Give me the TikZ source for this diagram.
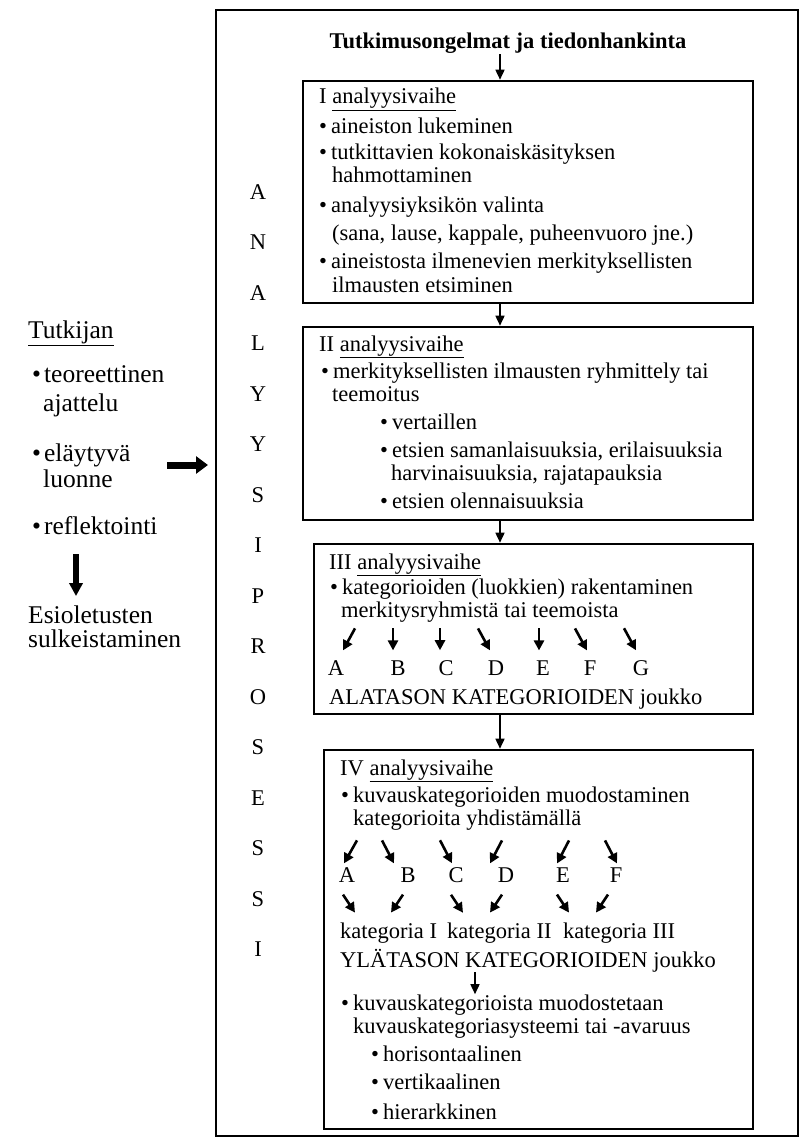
\documentclass[tikz,border=0pt]{standalone}
\usepackage{fontspec}
\setmainfont{Liberation Serif}
\usetikzlibrary{arrows.meta,calc}

\tikzset{
  txt/.style={anchor=base west,inner sep=0pt,font=\fontsize{22.5}{21.5}\selectfont},
  vtxt/.style={anchor=base west,inner sep=0pt,font=\fontsize{25.5}{27}\selectfont},
  kirjain/.style={inner sep=0pt,font=\fontsize{22.5}{21.5}\selectfont},
  vaihe/.style={draw,line width=2.6pt,inner sep=0pt},
  pil/.style={-{Triangle[length=10pt,width=9pt]},line width=1.6pt},
  pikku/.style={-{Triangle[length=10pt,width=10pt]},line width=2.6pt},
  paksu/.style={-{Triangle[length=12pt,width=17pt]},line width=7pt}
}

\begin{document}
\begin{tikzpicture}[x=1pt,y=-1pt]
        \useasboundingbox (0,0) rectangle (803,1147) ;
        %\draw[very thin,gray,step=50] (0,0) grid (803,1147) ;
        \draw[line width=1.8pt] (216,10) rectangle (798,1136) ;
        \node[anchor=base,inner sep=0pt,font=\fontsize{22.5}{21.5}\selectfont\bfseries]
        (otsikko) at (508,49) {Tutkimusongelmat ja tiedonhankinta} ;
        % vaiheet
        \node[vaihe,minimum width=450pt,minimum height=222pt] (v1) at (528,192) {} ;
        \node[vaihe,minimum width=450pt,minimum height=193pt] (v2) at (528,423.5) {} ;
        \node[vaihe,minimum width=439pt,minimum height=170pt] (v3) at (533.5,629) {} ;
        \node[vaihe,minimum width=429pt,minimum height=379pt] (v4) at (538.5,939.5) {} ;
        \coordinate (akseli) at (500,0) ;
        \draw[pil] (otsikko.south -| akseli) -- (v1.north -| akseli) ;
        \draw[pil] (v1.south -| akseli) -- (v2.north -| akseli) ;
        \draw[pil] (v2.south -| akseli) -- (v3.north -| akseli) ;
        \draw[pil] (v3.south -| akseli) -- (v4.north -| akseli) ;
        % ANALYYSIPROSESSI
        \foreach \k [count=\i from 0] in {A,N,A,L,Y,Y,S,I,P,R,O,S,E,S,S,I}
          \node[kirjain] (p\i) at (258,192+50.5*\i) {\k} ;
        % rivit
        \foreach \x/\y/\t [count=\n] in {
          319/104/{I \underline{analyysivaihe}},
          319/134/{\textbullet\hspace{4pt}aineiston lukeminen},
          319/160/{\textbullet\hspace{4pt}tutkittavien kokonaiskäsityksen},
          332/183/{hahmottaminen},
          319/213/{\textbullet\hspace{4pt}analyysiyksikön valinta},
          332/241/{(sana, lause, kappale, puheenvuoro jne.)},
          319/269/{\textbullet\hspace{4pt}aineistosta ilmenevien merkityksellisten},
          332/292/{ilmausten etsiminen},
          319/351/{II \underline{analyysivaihe}},
          321/378/{\textbullet\hspace{4pt}merkityksellisten ilmausten ryhmittely tai},
          332/401/{teemoitus},
          380/429/{\textbullet\hspace{4pt}vertaillen},
          380/457/{\textbullet\hspace{4pt}etsien samanlaisuuksia, erilaisuuksia},
          391/480/{harvinaisuuksia, rajatapauksia},
          380/508/{\textbullet\hspace{4pt}etsien olennaisuuksia},
          329/569/{III \underline{analyysivaihe}},
          330/594/{\textbullet\hspace{4pt}kategorioiden (luokkien) rakentaminen},
          341/617/{merkitysryhmistä tai teemoista},
          329/704/{ALATASON KATEGORIOIDEN joukko},
          340/775/{IV \underline{analyysivaihe}},
          341/802/{\textbullet\hspace{4pt}kuvauskategorioiden muodostaminen},
          353/825/{kategorioita yhdistämällä},
          353/1033/{kuvauskategoriasysteemi tai -avaruus},
          371/1061/{\textbullet\hspace{4pt}horisontaalinen},
          371/1089/{\textbullet\hspace{4pt}vertikaalinen},
          371/1119/{\textbullet\hspace{4pt}hierarkkinen}}
          \node[txt] (r\n) at (\x,\y) {\t} ;
        % alatason kategoriat
        \foreach \k/\x [count=\i] in {A/336,B/398,C/446,D/496,E/543,F/590,G/641}
          \node[kirjain] (a\i) at (\x,668) {\k} ;
        \foreach \i/\ox/\sx in {1/7/19,2/-5/-5,3/-6/-6,4/-6/-18,5/-4/-4,6/-3/-15,7/-5/-17}
          \draw[pikku] ($(a\i.north)+(\sx,-32)$) -- ($(a\i.north)+(\ox,-10)$) ;
        % ylatason kategoriat
        \foreach \k/\x [count=\i] in {A/347,B/408,C/456,D/506,E/563,F/616}
          \node[kirjain] (b\i) at (\x,875) {\k} ;
        \foreach \i/\ox/\sx in {1/-3/10,2/-14/-26,3/-4/-16,4/-16/-4,5/-6/6,6/1/-11}
          \draw[pikku] ($(b\i.north)+(\sx,-27)$) -- ($(b\i.north)+(\ox,-4)$) ;
        \foreach \i/\sx/\ex in {1/-4/8,2/-5/-17,3/-5/7,4/-4/-16,5/-6/6,6/-8/-20}
          \draw[pikku] ($(b\i.south)+(\sx,12)$) -- ($(b\i.south)+(\ex,30)$) ;
        \node[txt] (k1) at (340,938) {kategoria I} ;
        \node[txt] (k2) at (447,938) {kategoria II} ;
        \node[txt] (k3) at (563,938) {kategoria III} ;
        \node[txt] (ylataso) at (340,967) {YLÄTASON KATEGORIOIDEN joukko} ;
        \node[txt] (kuvaus) at (341,1010) {\textbullet\hspace{4pt}kuvauskategorioista muodostetaan} ;
        \coordinate (kx) at (475,0) ;
        \draw[pil] (ylataso.south -| kx) -- (kuvaus.north -| kx) ;
        % tutkijan puoli
        \node[vtxt] (tutkija) at (28,338) {\underline{Tutkijan}} ;
        \node[vtxt] (teor) at (32,382) {\textbullet\hspace{3pt}teoreettinen} ;
        \node[vtxt] (ajat) at (43,411) {ajattelu} ;
        \node[vtxt] (elay) at (32,461) {\textbullet\hspace{3pt}eläytyvä} ;
        \node[vtxt] (luon) at (43,487) {luonne} ;
        \node[vtxt] (refl) at (32,534) {\textbullet\hspace{3pt}reflektointi} ;
        \node[vtxt] (esiol) at (28,623) {Esioletusten} ;
        \node[vtxt] (sulk) at (28,647) {sulkeistaminen} ;
        \coordinate (dx) at (76,0) ;
        \draw[paksu,line width=6.5pt,-{Triangle[length=13pt,width=13pt]},shorten <=20pt,shorten >=9pt]
        (refl.south -| dx) -- (esiol.north -| dx) ;
        \coordinate (oik1) at (167,465) ;
        \coordinate (oik2) at (208,465) ;
        \draw[paksu] (oik1) -- (oik2) ;
      \end{tikzpicture}
\end{document}
